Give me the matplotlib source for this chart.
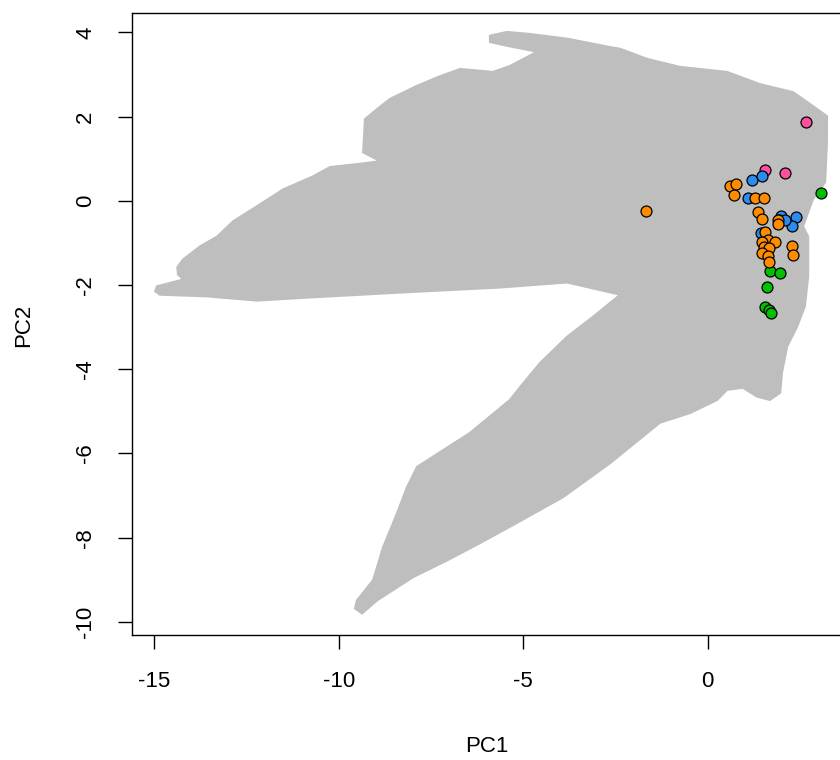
import matplotlib
matplotlib.use("Agg")
import matplotlib.pyplot as plt
import numpy as np

plt.rcParams['font.family'] = ['Liberation Sans', 'DejaVu Sans']
plt.rcParams['axes.unicode_minus'] = False

# outline of the dense grey background cloud (PC1, PC2)
cloud_pc1 = [-14.98, -14.93, -14.22, -14.36, -14.38, -14.22, -13.76, -13.30, -12.87, -12.22,
             -11.51, -10.70, -10.24, -9.51, -8.88, -9.34, -9.29, -8.96, -8.61, -7.88,
             -7.25, -6.71, -5.82, -5.36, -4.62, -5.44, -5.90, -5.90, -5.44, -4.81,
             -3.81, -2.64, -2.37, -1.64, -0.75, 0.53, 1.42, 2.32, 2.86, 3.24,
             3.24, 3.19, 2.86, 2.59, 2.73, 2.73, 2.64, 2.43, 2.16, 2.02,
             1.97, 1.69, 1.34, 0.96, 0.53, 0.26, -0.47, -1.29, -2.64, -3.92,
             -5.17, -6.17, -7.06, -7.99, -8.96, -9.37, -9.56, -9.51, -9.07, -8.80,
             -8.42, -8.15, -7.88, -6.44, -5.36, -5.08, -4.54, -3.81, -3.10, -2.37,
             -3.81, -5.63, -8.34, -10.86, -12.22, -13.57, -14.85]
cloud_pc2 = [-2.15, -2.03, -1.87, -1.75, -1.58, -1.39, -1.08, -0.85, -0.49, -0.13,
             0.27, 0.58, 0.80, 0.87, 0.94, 1.15, 1.94, 2.18, 2.42, 2.73,
             2.96, 3.13, 3.06, 3.20, 3.54, 3.68, 3.77, 3.92, 4.01, 3.96,
             3.85, 3.65, 3.61, 3.37, 3.18, 3.06, 2.77, 2.58, 2.25, 2.01,
             1.39, 0.44, 0.04, -0.61, -0.85, -1.80, -2.51, -2.99, -3.46, -4.08,
             -4.56, -4.73, -4.65, -4.44, -4.49, -4.73, -5.04, -5.27, -6.23, -7.04,
             -7.65, -8.13, -8.54, -8.94, -9.49, -9.80, -9.68, -9.49, -9.01, -8.23,
             -7.42, -6.80, -6.32, -5.51, -4.73, -4.42, -3.85, -3.23, -2.75, -2.23,
             -1.94, -2.06, -2.18, -2.30, -2.37, -2.27, -2.23]

# highlighted samples by group
pink_pc1 = [2.68, 1.57, 2.11]
pink_pc2 = [1.87, 0.74, 0.67]

green_pc1 = [3.09, 1.69, 1.97, 1.60, 1.55, 1.68, 1.71]
green_pc2 = [0.19, -1.67, -1.71, -2.05, -2.53, -2.60, -2.67]

blue_pc1 = [1.20, 1.47, 1.09, 2.00, 1.95, 2.40, 2.29, 1.46, 2.10]
blue_pc2 = [0.50, 0.58, 0.07, -0.35, -0.45, -0.39, -0.60, -0.77, -0.45]

orange_pc1 = [-1.68, 0.61, 0.76, 0.71, 1.28, 1.52, 1.37, 1.49, 1.92, 1.91, 1.57,
              1.65, 1.47, 1.82, 1.52, 1.68, 1.47, 1.65, 1.68, 2.28, 2.32]
orange_pc2 = [-0.24, 0.36, 0.39, 0.14, 0.07, 0.07, -0.27, -0.43, -0.46, -0.55, -0.75,
              -0.92, -0.97, -0.99, -1.09, -1.13, -1.25, -1.30, -1.46, -1.07, -1.28]

fig = plt.figure(figsize=(8.4, 7.6), dpi=100)
ax = fig.add_axes([0.1575, 0.164, 0.845, 0.8195])

ax.fill(cloud_pc1, cloud_pc2, color='#bebebe', lw=1.5, ec='#bebebe', zorder=1)

groups = [(pink_pc1, pink_pc2, '#ff4fa0'),
          (green_pc1, green_pc2, '#00c000'),
          (blue_pc1, blue_pc2, '#2a8cf0'),
          (orange_pc1, orange_pc2, '#ff8c00')]
for gx, gy, col in groups:
    ax.scatter(gx, gy, s=62, c=col, edgecolors='black', linewidths=0.9, zorder=3)

ax.set_xlim(-15.60, 3.65)
ax.set_ylim(-10.32, 4.47)
ax.set_xticks([-15, -10, -5, 0])
ax.set_yticks(np.arange(-10, 5, 2))
ax.tick_params(length=10, width=1, labelsize=16, pad=16, color='black')
for lbl in ax.get_yticklabels():
    lbl.set_rotation(90)
    lbl.set_va('center')

for sp in ax.spines.values():
    sp.set_linewidth(1)

ax.set_xlabel('PC1', fontsize=16)
ax.set_ylabel('PC2', fontsize=16)
ax.xaxis.label.set_va('center')
ax.yaxis.label.set_va('center')
ax.xaxis.set_label_coords(0.4998, -0.179)
ax.yaxis.set_label_coords(-0.1526, 0.4985)

fig.savefig('out.png', dpi=100)
